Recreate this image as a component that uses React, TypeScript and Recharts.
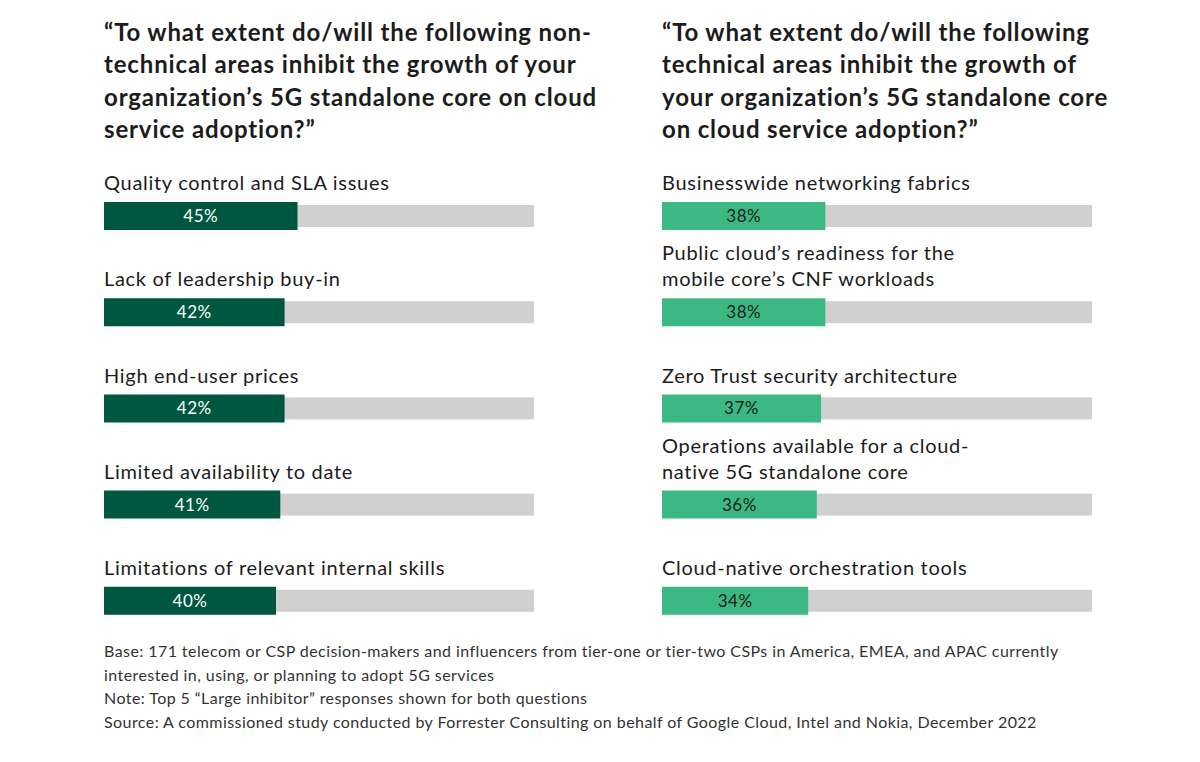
import { BarChart, Bar, XAxis, YAxis, LabelList } from 'recharts';

const leftTitle = [
    '“To what extent do/will the following non-',
    'technical areas inhibit the growth of your',
    'organization’s 5G standalone core on cloud',
    'service adoption?”',
];
const rightTitle = [
    '“To what extent do/will the following',
    'technical areas inhibit the growth of',
    'your organization’s 5G standalone core',
    'on cloud service adoption?”',
];

const leftLabels = [
    'Quality control and SLA issues',
    'Lack of leadership buy-in',
    'High end-user prices',
    'Limited availability to date',
    'Limitations of relevant internal skills',
];
const leftValues = [45, 42, 42, 41, 40];

const rightLabels = [
    'Businesswide networking fabrics',
    'Public cloud’s readiness for the\nmobile core’s CNF workloads',
    'Zero Trust security architecture',
    'Operations available for a cloud-\nnative 5G standalone core',
    'Cloud-native orchestration tools',
];
const rightValues = [38, 38, 37, 36, 34];

const notes = [
    'Base: 171 telecom or CSP decision-makers and influencers from tier-one or tier-two CSPs in America, EMEA, and APAC currently',
    'interested in, using, or planning to adopt 5G services',
    'Note: Top 5 “Large inhibitor” responses shown for both questions',
    'Source: A commissioned study conducted by Forrester Consulting on behalf of Google Cloud, Intel and Nokia, December 2022',
];

const FONT = 'Lato, "Open Sans", sans-serif';
const TEXT = '#1c1c1c';

function CategoryTick(props: any) {
    const { y, payload } = props;
    const lines = String(payload.value).split('\n');
    const first = y - 26 - 26 * (lines.length - 1);
    return <text x={1} y={first} fill={TEXT} fontSize={20} fontFamily={FONT} textAnchor="start" letterSpacing={0.7}>
        {lines.map((l, i) => <tspan key={i} x={1} dy={i === 0 ? 0 : 26}>{l}</tspan>)}
    </text>;
}

function Track(props: any) {
    return <rect x={props.x} y={props.y + 3} width={props.width} height={props.height - 6} fill="#d0d0d0" />;
}

function Panel({ labels, values, color, labelColor, left, title }: {
    labels: string[], values: number[], color: string, labelColor: string, left: number, title: string[]
}) {
    const data = labels.map((name, i) => ({ name, value: values[i] }));
    return <>
        <div style={{
            position: 'absolute', left, top: 16, fontFamily: FONT, fontWeight: 700, whiteSpace: 'nowrap',
            fontSize: 24, lineHeight: '32.3px', color: TEXT, letterSpacing: '0.85px',
        }}>{title.map((t, i) => <div key={i}>{t}</div>)}</div>
        <BarChart
            style={{ position: 'absolute', left: left - 1, top: 168, overflow: 'visible' }}
            width={431} height={481} layout="vertical" data={data}
            margin={{ top: 0, right: 0, bottom: 0, left: 0 }}
        >
            <XAxis type="number" domain={[0, 100]} hide />
            <YAxis type="category" dataKey="name" width={1} axisLine={false} tickLine={false} tick={<CategoryTick />} interval={0} />
            <Bar dataKey="value" fill={color} barSize={28} background={<Track />} isAnimationActive={false}>
                <LabelList dataKey="value" position="center" formatter={(v: any) => `${v}%`}
                    fill={labelColor} fontSize={17} fontFamily={FONT} letterSpacing={0.5} />
            </Bar>
        </BarChart>
    </>;
}

export default function App() {
    return <div style={{ position: 'absolute', left: 0, top: 0, width: 1200, height: 762, background: '#fff', overflow: 'hidden' }}>
        <Panel labels={leftLabels} values={leftValues} color="#00573f" labelColor="#ffffff" left={104} title={leftTitle} />
        <Panel labels={rightLabels} values={rightValues} color="#3cb982" labelColor="#1c1c1c" left={662} title={rightTitle} />
        <div style={{
            position: 'absolute', left: 104, top: 639, fontFamily: FONT, fontSize: 16, whiteSpace: 'nowrap',
            lineHeight: '23.7px', color: '#333', letterSpacing: '0.43px',
        }}>
            {notes.map((n, i) => <div key={i}>{n}</div>)}
        </div>
    </div>;
}
